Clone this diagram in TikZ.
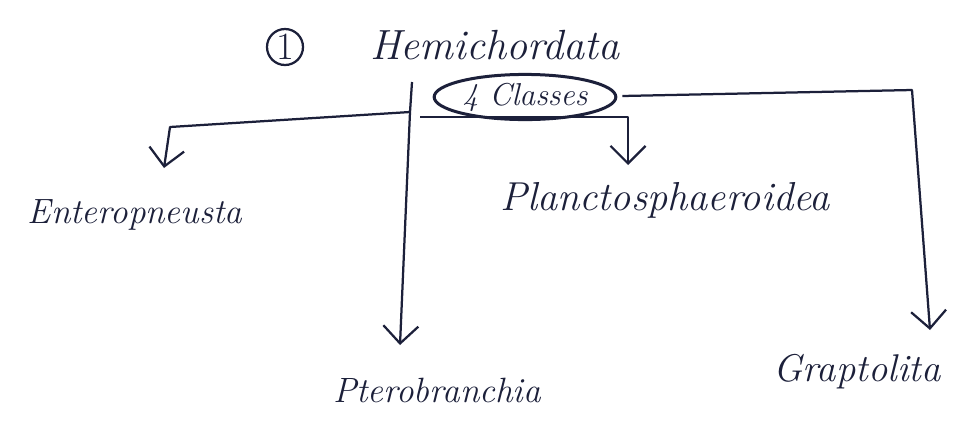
\documentclass[tikz,border=0pt]{standalone}
\usepackage{tikz}
\usetikzlibrary{arrows.meta,shapes.geometric}
\definecolor{ink}{RGB}{28,32,58}
\newcommand{\inkcolor}{ink}
\newcommand{\pen}{0.45mm}
\tikzset{
  hand/.style={text=\inkcolor, font=\fontsize{20}{24}\selectfont\itshape, inner sep=1pt},
  branch/.style={draw=\inkcolor, line width=\pen, line join=round},
  down/.style={branch, -{Straight Barb[length=3.5mm,width=7mm,line width=\pen]}}
}

\begin{document}
\begin{tikzpicture}
\useasboundingbox (0,0) rectangle (19.46,-8.42);
\node[hand, font=\fontsize{22}{26}\selectfont] (num) at (5.7, -0.94) {1};
\draw[\inkcolor] [line width = \pen] (num) circle (0.36);
\node[hand, font=\fontsize{24}{28}\selectfont\itshape] (root) at (9.9, -0.9) {Hemichordata};
\node[hand, font=\fontsize{18}{22}\selectfont\itshape, ellipse, draw=\inkcolor, line width=0.6mm,
      minimum width=3.6cm, minimum height=0.75cm] (classes) at (10.5, -1.94) {4 Classes};
\coordinate (top) at (8.24, -1.64);
\coordinate (split) at (8.2, -2.24);
\coordinate (leftturn) at (3.4, -2.54);
\coordinate (midstart) at (8.4, -2.34);
\coordinate (midturn) at (12.56, -2.34);
\coordinate (rightturn) at (18.24, -1.8);
\node[hand] (entero) at (2.7, -4.3) {Enteropneusta};
\node[hand, font=\fontsize{23}{27}\selectfont\itshape] (plancto) at (13.3, -4.0) {Planctosphaeroidea};
\node[hand] (ptero) at (8.74, -7.8) {Pterobranchia};
\node[hand, font=\fontsize{22}{26}\selectfont\itshape] (grapto) at (17.14, -7.44) {Graptolita};
%branches
\draw[down] (top) -- (split) -- (8.0, -6.9);
\draw[down] (split) -- (leftturn) -- (3.28, -3.36);
\draw[down] (midstart) -- (midturn) -- (12.56, -3.3);
\draw[down] (classes.east) ++(0.1, 0.02) -- (rightturn) -- (18.6, -6.6);
\end{tikzpicture}
\end{document}
